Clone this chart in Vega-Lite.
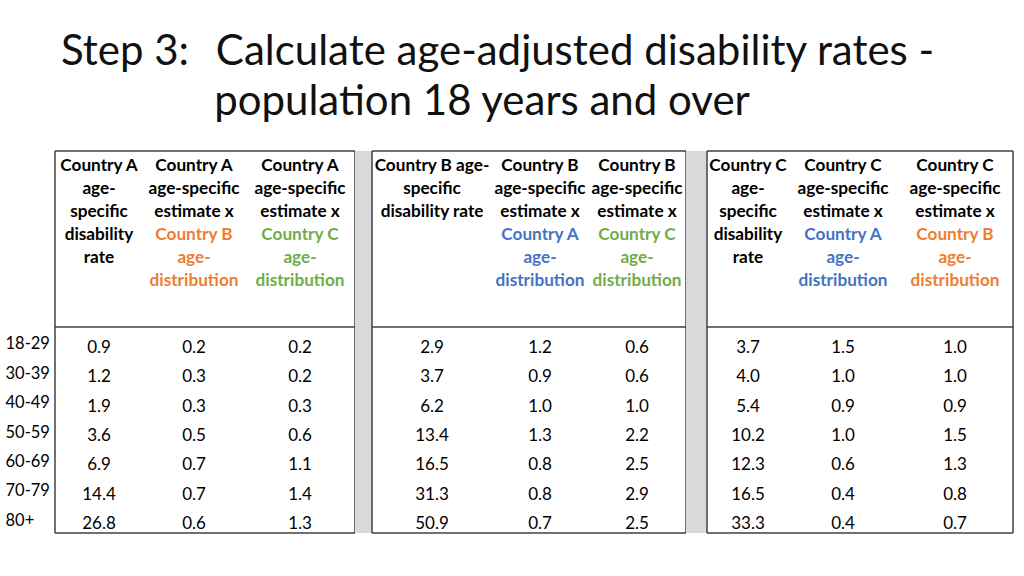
{
  "$schema": "https://vega.github.io/schema/vega-lite/v6.json",
  "padding": {"left": 5, "top": 31, "right": 5, "bottom": 5},
  "background": "white",
  "title": {
    "text": ["Step 3:\u00a0\u00a0\u2009Calculate age-adjusted disability rates -", "\u200b\u00a0\u00a0\u00a0\u00a0\u00a0\u00a0\u00a0\u00a0\u00a0\u00a0\u00a0\u00a0\u00a0\u00a0\u200apopula\u200ction 18 years and over"],
    "anchor": "start", "frame": "group", "font": "Lato", "fontSize": 42, "fontWeight": "normal",
    "color": "#111111", "lineHeight": 50, "offset": 26, "dx": 6
  },
  "config": {"view": {"stroke": null}, "concat": {"spacing": 0}},
  "datasets": {
    "rates": [
      {"age": "18-29", "a1": 0.9, "a2": 0.2, "a3": 0.2, "b1": 2.9, "b2": 1.2, "b3": 0.6, "c1": 3.7, "c2": 1.5, "c3": 1.0},
      {"age": "30-39", "a1": 1.2, "a2": 0.3, "a3": 0.2, "b1": 3.7, "b2": 0.9, "b3": 0.6, "c1": 4.0, "c2": 1.0, "c3": 1.0},
      {"age": "40-49", "a1": 1.9, "a2": 0.3, "a3": 0.3, "b1": 6.2, "b2": 1.0, "b3": 1.0, "c1": 5.4, "c2": 0.9, "c3": 0.9},
      {"age": "50-59", "a1": 3.6, "a2": 0.5, "a3": 0.6, "b1": 13.4, "b2": 1.3, "b3": 2.2, "c1": 10.2, "c2": 1.0, "c3": 1.5},
      {"age": "60-69", "a1": 6.9, "a2": 0.7, "a3": 1.1, "b1": 16.5, "b2": 0.8, "b3": 2.5, "c1": 12.3, "c2": 0.6, "c3": 1.3},
      {"age": "70-79", "a1": 14.4, "a2": 0.7, "a3": 1.4, "b1": 31.3, "b2": 0.8, "b3": 2.9, "c1": 16.5, "c2": 0.4, "c3": 0.8},
      {"age": "80+", "a1": 26.8, "a2": 0.6, "a3": 1.3, "b1": 50.9, "b2": 0.7, "b3": 2.5, "c1": 33.3, "c2": 0.4, "c3": 0.7}
    ],
    "headers": [
      {"col": "a1", "line": 1, "text": "Country A", "hl": "none"},
      {"col": "a1", "line": 2, "text": "age-", "hl": "none"},
      {"col": "a1", "line": 3, "text": "specific", "hl": "none"},
      {"col": "a1", "line": 4, "text": "disability", "hl": "none"},
      {"col": "a1", "line": 5, "text": "rate", "hl": "none"},
      {"col": "a2", "line": 1, "text": "Country A", "hl": "none"},
      {"col": "a2", "line": 2, "text": "age-specific", "hl": "none"},
      {"col": "a2", "line": 3, "text": "estimate x", "hl": "none"},
      {"col": "a2", "line": 4, "text": "Country B", "hl": "B"},
      {"col": "a2", "line": 5, "text": "age-", "hl": "B"},
      {"col": "a2", "line": 6, "text": "distribu\u200ction", "hl": "B"},
      {"col": "a3", "line": 1, "text": "Country A", "hl": "none"},
      {"col": "a3", "line": 2, "text": "age-specific", "hl": "none"},
      {"col": "a3", "line": 3, "text": "estimate x", "hl": "none"},
      {"col": "a3", "line": 4, "text": "Country C", "hl": "C"},
      {"col": "a3", "line": 5, "text": "age-", "hl": "C"},
      {"col": "a3", "line": 6, "text": "distribu\u200ction", "hl": "C"},
      {"col": "b1", "line": 1, "text": "Country B age-", "hl": "none"},
      {"col": "b1", "line": 2, "text": "specific", "hl": "none"},
      {"col": "b1", "line": 3, "text": "disability rate", "hl": "none"},
      {"col": "b2", "line": 1, "text": "Country B", "hl": "none"},
      {"col": "b2", "line": 2, "text": "age-specific", "hl": "none"},
      {"col": "b2", "line": 3, "text": "estimate x", "hl": "none"},
      {"col": "b2", "line": 4, "text": "Country A", "hl": "A"},
      {"col": "b2", "line": 5, "text": "age-", "hl": "A"},
      {"col": "b2", "line": 6, "text": "distribu\u200ction", "hl": "A"},
      {"col": "b3", "line": 1, "text": "Country B", "hl": "none"},
      {"col": "b3", "line": 2, "text": "age-specific", "hl": "none"},
      {"col": "b3", "line": 3, "text": "estimate x", "hl": "none"},
      {"col": "b3", "line": 4, "text": "Country C", "hl": "C"},
      {"col": "b3", "line": 5, "text": "age-", "hl": "C"},
      {"col": "b3", "line": 6, "text": "distribu\u200ction", "hl": "C"},
      {"col": "c1", "line": 1, "text": "Country C", "hl": "none"},
      {"col": "c1", "line": 2, "text": "age-", "hl": "none"},
      {"col": "c1", "line": 3, "text": "specific", "hl": "none"},
      {"col": "c1", "line": 4, "text": "disability", "hl": "none"},
      {"col": "c1", "line": 5, "text": "rate", "hl": "none"},
      {"col": "c2", "line": 1, "text": "Country C", "hl": "none"},
      {"col": "c2", "line": 2, "text": "age-specific", "hl": "none"},
      {"col": "c2", "line": 3, "text": "estimate x", "hl": "none"},
      {"col": "c2", "line": 4, "text": "Country A", "hl": "A"},
      {"col": "c2", "line": 5, "text": "age-", "hl": "A"},
      {"col": "c2", "line": 6, "text": "distribu\u200ction", "hl": "A"},
      {"col": "c3", "line": 1, "text": "Country C", "hl": "none"},
      {"col": "c3", "line": 2, "text": "age-specific", "hl": "none"},
      {"col": "c3", "line": 3, "text": "estimate x", "hl": "none"},
      {"col": "c3", "line": 4, "text": "Country B", "hl": "B"},
      {"col": "c3", "line": 5, "text": "age-", "hl": "B"},
      {"col": "c3", "line": 6, "text": "distribu\u200ction", "hl": "B"}
    ]
  },
  "columns": 11,
  "spacing": 0,
  "bounds": "flush",
  "concat": [
    {"width": 88, "height": 176, "layer": [
      {"data": {"name": "headers"}, "transform": [{"filter": "datum.col == 'a1'"}],
       "mark": {"type": "text", "font": "Lato", "fontSize": 17.2, "fontWeight": "bold", "baseline": "middle"},
       "encoding": {"y": {"field": "line", "type": "ordinal", "scale": {"type": "point", "domain": [1, 2, 3, 4, 5, 6, 7], "padding": 0.826, "align": 0.39}, "axis": null},
         "text": {"field": "text", "type": "nominal"},
         "color": {"field": "hl", "type": "nominal", "scale": {"domain": ["none", "A", "B", "C"], "range": ["#000000", "#4472C4", "#ED7D31", "#70AD47"]}, "legend": null}}},
      {"data": {"values": [{}]}, "mark": {"type": "rule", "color": "#404040", "strokeWidth": 1.5}, "encoding": {"y": {"value": 0}}},
      {"data": {"values": [{}]}, "mark": {"type": "rule", "color": "#404040", "strokeWidth": 1.5}, "encoding": {"x": {"value": 0}}}
    ]},
    {"width": 102, "height": 176, "layer": [
      {"data": {"name": "headers"}, "transform": [{"filter": "datum.col == 'a2'"}],
       "mark": {"type": "text", "font": "Lato", "fontSize": 17.2, "fontWeight": "bold", "baseline": "middle"},
       "encoding": {"y": {"field": "line", "type": "ordinal", "scale": {"type": "point", "domain": [1, 2, 3, 4, 5, 6, 7], "padding": 0.826, "align": 0.39}, "axis": null},
         "text": {"field": "text", "type": "nominal"},
         "color": {"field": "hl", "type": "nominal", "scale": {"domain": ["none", "A", "B", "C"], "range": ["#000000", "#4472C4", "#ED7D31", "#70AD47"]}, "legend": null}}},
      {"data": {"values": [{}]}, "mark": {"type": "rule", "color": "#404040", "strokeWidth": 1.5}, "encoding": {"y": {"value": 0}}}
    ]},
    {"width": 110, "height": 176, "layer": [
      {"data": {"name": "headers"}, "transform": [{"filter": "datum.col == 'a3'"}],
       "mark": {"type": "text", "font": "Lato", "fontSize": 17.2, "fontWeight": "bold", "baseline": "middle"},
       "encoding": {"y": {"field": "line", "type": "ordinal", "scale": {"type": "point", "domain": [1, 2, 3, 4, 5, 6, 7], "padding": 0.826, "align": 0.39}, "axis": null},
         "text": {"field": "text", "type": "nominal"},
         "color": {"field": "hl", "type": "nominal", "scale": {"domain": ["none", "A", "B", "C"], "range": ["#000000", "#4472C4", "#ED7D31", "#70AD47"]}, "legend": null}}},
      {"data": {"values": [{}]}, "mark": {"type": "rule", "color": "#404040", "strokeWidth": 1.5}, "encoding": {"y": {"value": 0}}},
      {"data": {"values": [{}]}, "mark": {"type": "rule", "color": "#404040", "strokeWidth": 1.5}, "encoding": {"x": {"value": "width"}}}
    ]},
    {"width": 17, "height": 176, "view": {"fill": "#d9d9d9", "stroke": null}, "data": {"values": [{}]}, "mark": {"type": "text", "text": ""}, "encoding": {}},
    {"width": 120, "height": 176, "layer": [
      {"data": {"name": "headers"}, "transform": [{"filter": "datum.col == 'b1'"}],
       "mark": {"type": "text", "font": "Lato", "fontSize": 17.2, "fontWeight": "bold", "baseline": "middle"},
       "encoding": {"y": {"field": "line", "type": "ordinal", "scale": {"type": "point", "domain": [1, 2, 3, 4, 5, 6, 7], "padding": 0.826, "align": 0.39}, "axis": null},
         "text": {"field": "text", "type": "nominal"},
         "color": {"field": "hl", "type": "nominal", "scale": {"domain": ["none", "A", "B", "C"], "range": ["#000000", "#4472C4", "#ED7D31", "#70AD47"]}, "legend": null}}},
      {"data": {"values": [{}]}, "mark": {"type": "rule", "color": "#404040", "strokeWidth": 1.5}, "encoding": {"y": {"value": 0}}},
      {"data": {"values": [{}]}, "mark": {"type": "rule", "color": "#404040", "strokeWidth": 1.5}, "encoding": {"x": {"value": 0}}}
    ]},
    {"width": 96, "height": 176, "layer": [
      {"data": {"name": "headers"}, "transform": [{"filter": "datum.col == 'b2'"}],
       "mark": {"type": "text", "font": "Lato", "fontSize": 17.2, "fontWeight": "bold", "baseline": "middle"},
       "encoding": {"y": {"field": "line", "type": "ordinal", "scale": {"type": "point", "domain": [1, 2, 3, 4, 5, 6, 7], "padding": 0.826, "align": 0.39}, "axis": null},
         "text": {"field": "text", "type": "nominal"},
         "color": {"field": "hl", "type": "nominal", "scale": {"domain": ["none", "A", "B", "C"], "range": ["#000000", "#4472C4", "#ED7D31", "#70AD47"]}, "legend": null}}},
      {"data": {"values": [{}]}, "mark": {"type": "rule", "color": "#404040", "strokeWidth": 1.5}, "encoding": {"y": {"value": 0}}}
    ]},
    {"width": 98, "height": 176, "layer": [
      {"data": {"name": "headers"}, "transform": [{"filter": "datum.col == 'b3'"}],
       "mark": {"type": "text", "font": "Lato", "fontSize": 17.2, "fontWeight": "bold", "baseline": "middle"},
       "encoding": {"y": {"field": "line", "type": "ordinal", "scale": {"type": "point", "domain": [1, 2, 3, 4, 5, 6, 7], "padding": 0.826, "align": 0.39}, "axis": null},
         "text": {"field": "text", "type": "nominal"},
         "color": {"field": "hl", "type": "nominal", "scale": {"domain": ["none", "A", "B", "C"], "range": ["#000000", "#4472C4", "#ED7D31", "#70AD47"]}, "legend": null}}},
      {"data": {"values": [{}]}, "mark": {"type": "rule", "color": "#404040", "strokeWidth": 1.5}, "encoding": {"y": {"value": 0}}},
      {"data": {"values": [{}]}, "mark": {"type": "rule", "color": "#404040", "strokeWidth": 1.5}, "encoding": {"x": {"value": "width"}}}
    ]},
    {"width": 21, "height": 176, "view": {"fill": "#d9d9d9", "stroke": null}, "data": {"values": [{}]}, "mark": {"type": "text", "text": ""}, "encoding": {}},
    {"width": 82, "height": 176, "layer": [
      {"data": {"name": "headers"}, "transform": [{"filter": "datum.col == 'c1'"}],
       "mark": {"type": "text", "font": "Lato", "fontSize": 17.2, "fontWeight": "bold", "baseline": "middle"},
       "encoding": {"y": {"field": "line", "type": "ordinal", "scale": {"type": "point", "domain": [1, 2, 3, 4, 5, 6, 7], "padding": 0.826, "align": 0.39}, "axis": null},
         "text": {"field": "text", "type": "nominal"},
         "color": {"field": "hl", "type": "nominal", "scale": {"domain": ["none", "A", "B", "C"], "range": ["#000000", "#4472C4", "#ED7D31", "#70AD47"]}, "legend": null}}},
      {"data": {"values": [{}]}, "mark": {"type": "rule", "color": "#404040", "strokeWidth": 1.5}, "encoding": {"y": {"value": 0}}},
      {"data": {"values": [{}]}, "mark": {"type": "rule", "color": "#404040", "strokeWidth": 1.5}, "encoding": {"x": {"value": 0}}}
    ]},
    {"width": 108, "height": 176, "layer": [
      {"data": {"name": "headers"}, "transform": [{"filter": "datum.col == 'c2'"}],
       "mark": {"type": "text", "font": "Lato", "fontSize": 17.2, "fontWeight": "bold", "baseline": "middle"},
       "encoding": {"y": {"field": "line", "type": "ordinal", "scale": {"type": "point", "domain": [1, 2, 3, 4, 5, 6, 7], "padding": 0.826, "align": 0.39}, "axis": null},
         "text": {"field": "text", "type": "nominal"},
         "color": {"field": "hl", "type": "nominal", "scale": {"domain": ["none", "A", "B", "C"], "range": ["#000000", "#4472C4", "#ED7D31", "#70AD47"]}, "legend": null}}},
      {"data": {"values": [{}]}, "mark": {"type": "rule", "color": "#404040", "strokeWidth": 1.5}, "encoding": {"y": {"value": 0}}}
    ]},
    {"width": 116, "height": 176, "layer": [
      {"data": {"name": "headers"}, "transform": [{"filter": "datum.col == 'c3'"}],
       "mark": {"type": "text", "font": "Lato", "fontSize": 17.2, "fontWeight": "bold", "baseline": "middle"},
       "encoding": {"y": {"field": "line", "type": "ordinal", "scale": {"type": "point", "domain": [1, 2, 3, 4, 5, 6, 7], "padding": 0.826, "align": 0.39}, "axis": null},
         "text": {"field": "text", "type": "nominal"},
         "color": {"field": "hl", "type": "nominal", "scale": {"domain": ["none", "A", "B", "C"], "range": ["#000000", "#4472C4", "#ED7D31", "#70AD47"]}, "legend": null}}},
      {"data": {"values": [{}]}, "mark": {"type": "rule", "color": "#404040", "strokeWidth": 1.5}, "encoding": {"y": {"value": 0}}},
      {"data": {"values": [{}]}, "mark": {"type": "rule", "color": "#404040", "strokeWidth": 1.5}, "encoding": {"x": {"value": "width"}}}
    ]},
    {"width": 88, "height": 206, "layer": [
      {"data": {"name": "rates"}, "mark": {"type": "text", "font": "Lato", "fontSize": 17, "dy": 6, "color": "#000000"},
       "encoding": {"y": {"field": "age", "type": "ordinal", "scale": {"type": "point", "domain": ["18-29", "30-39", "40-49", "50-59", "60-69", "70-79", "80+"], "padding": 0.5},
         "axis": {"title": null, "ticks": false, "domain": false, "grid": false, "labelAlign": "left", "labelPadding": 50, "labelOffset": 2, "labelFont": "Lato", "labelFontSize": 16.5, "labelColor": "#000000", "labelBaseline": "middle"}},
         "text": {"field": "a1", "type": "quantitative", "format": ".1f"}}},
      {"data": {"values": [{}]}, "mark": {"type": "rule", "color": "#404040", "strokeWidth": 1.5}, "encoding": {"y": {"value": 0}}},
      {"data": {"values": [{}]}, "mark": {"type": "rule", "color": "#404040", "strokeWidth": 1.5}, "encoding": {"y": {"value": "height"}}},
      {"data": {"values": [{}]}, "mark": {"type": "rule", "color": "#404040", "strokeWidth": 1.5}, "encoding": {"x": {"value": 0}}}
    ]},
    {"width": 102, "height": 206, "layer": [
      {"data": {"name": "rates"}, "mark": {"type": "text", "font": "Lato", "fontSize": 17, "dy": 6, "color": "#000000"},
       "encoding": {"y": {"field": "age", "type": "ordinal", "scale": {"type": "point", "domain": ["18-29", "30-39", "40-49", "50-59", "60-69", "70-79", "80+"], "padding": 0.5}, "axis": null},
         "text": {"field": "a2", "type": "quantitative", "format": ".1f"}}},
      {"data": {"values": [{}]}, "mark": {"type": "rule", "color": "#404040", "strokeWidth": 1.5}, "encoding": {"y": {"value": 0}}},
      {"data": {"values": [{}]}, "mark": {"type": "rule", "color": "#404040", "strokeWidth": 1.5}, "encoding": {"y": {"value": "height"}}}
    ]},
    {"width": 110, "height": 206, "layer": [
      {"data": {"name": "rates"}, "mark": {"type": "text", "font": "Lato", "fontSize": 17, "dy": 6, "color": "#000000"},
       "encoding": {"y": {"field": "age", "type": "ordinal", "scale": {"type": "point", "domain": ["18-29", "30-39", "40-49", "50-59", "60-69", "70-79", "80+"], "padding": 0.5}, "axis": null},
         "text": {"field": "a3", "type": "quantitative", "format": ".1f"}}},
      {"data": {"values": [{}]}, "mark": {"type": "rule", "color": "#404040", "strokeWidth": 1.5}, "encoding": {"y": {"value": 0}}},
      {"data": {"values": [{}]}, "mark": {"type": "rule", "color": "#404040", "strokeWidth": 1.5}, "encoding": {"y": {"value": "height"}}},
      {"data": {"values": [{}]}, "mark": {"type": "rule", "color": "#404040", "strokeWidth": 1.5}, "encoding": {"x": {"value": "width"}}}
    ]},
    {"width": 17, "height": 206, "view": {"fill": "#d9d9d9", "stroke": null}, "data": {"values": [{}]}, "mark": {"type": "text", "text": ""}, "encoding": {}},
    {"width": 120, "height": 206, "layer": [
      {"data": {"name": "rates"}, "mark": {"type": "text", "font": "Lato", "fontSize": 17, "dy": 6, "color": "#000000"},
       "encoding": {"y": {"field": "age", "type": "ordinal", "scale": {"type": "point", "domain": ["18-29", "30-39", "40-49", "50-59", "60-69", "70-79", "80+"], "padding": 0.5}, "axis": null},
         "text": {"field": "b1", "type": "quantitative", "format": ".1f"}}},
      {"data": {"values": [{}]}, "mark": {"type": "rule", "color": "#404040", "strokeWidth": 1.5}, "encoding": {"y": {"value": 0}}},
      {"data": {"values": [{}]}, "mark": {"type": "rule", "color": "#404040", "strokeWidth": 1.5}, "encoding": {"y": {"value": "height"}}},
      {"data": {"values": [{}]}, "mark": {"type": "rule", "color": "#404040", "strokeWidth": 1.5}, "encoding": {"x": {"value": 0}}}
    ]},
    {"width": 96, "height": 206, "layer": [
      {"data": {"name": "rates"}, "mark": {"type": "text", "font": "Lato", "fontSize": 17, "dy": 6, "color": "#000000"},
       "encoding": {"y": {"field": "age", "type": "ordinal", "scale": {"type": "point", "domain": ["18-29", "30-39", "40-49", "50-59", "60-69", "70-79", "80+"], "padding": 0.5}, "axis": null},
         "text": {"field": "b2", "type": "quantitative", "format": ".1f"}}},
      {"data": {"values": [{}]}, "mark": {"type": "rule", "color": "#404040", "strokeWidth": 1.5}, "encoding": {"y": {"value": 0}}},
      {"data": {"values": [{}]}, "mark": {"type": "rule", "color": "#404040", "strokeWidth": 1.5}, "encoding": {"y": {"value": "height"}}}
    ]},
    {"width": 98, "height": 206, "layer": [
      {"data": {"name": "rates"}, "mark": {"type": "text", "font": "Lato", "fontSize": 17, "dy": 6, "color": "#000000"},
       "encoding": {"y": {"field": "age", "type": "ordinal", "scale": {"type": "point", "domain": ["18-29", "30-39", "40-49", "50-59", "60-69", "70-79", "80+"], "padding": 0.5}, "axis": null},
         "text": {"field": "b3", "type": "quantitative", "format": ".1f"}}},
      {"data": {"values": [{}]}, "mark": {"type": "rule", "color": "#404040", "strokeWidth": 1.5}, "encoding": {"y": {"value": 0}}},
      {"data": {"values": [{}]}, "mark": {"type": "rule", "color": "#404040", "strokeWidth": 1.5}, "encoding": {"y": {"value": "height"}}},
      {"data": {"values": [{}]}, "mark": {"type": "rule", "color": "#404040", "strokeWidth": 1.5}, "encoding": {"x": {"value": "width"}}}
    ]},
    {"width": 21, "height": 206, "view": {"fill": "#d9d9d9", "stroke": null}, "data": {"values": [{}]}, "mark": {"type": "text", "text": ""}, "encoding": {}},
    {"width": 82, "height": 206, "layer": [
      {"data": {"name": "rates"}, "mark": {"type": "text", "font": "Lato", "fontSize": 17, "dy": 6, "color": "#000000"},
       "encoding": {"y": {"field": "age", "type": "ordinal", "scale": {"type": "point", "domain": ["18-29", "30-39", "40-49", "50-59", "60-69", "70-79", "80+"], "padding": 0.5}, "axis": null},
         "text": {"field": "c1", "type": "quantitative", "format": ".1f"}}},
      {"data": {"values": [{}]}, "mark": {"type": "rule", "color": "#404040", "strokeWidth": 1.5}, "encoding": {"y": {"value": 0}}},
      {"data": {"values": [{}]}, "mark": {"type": "rule", "color": "#404040", "strokeWidth": 1.5}, "encoding": {"y": {"value": "height"}}},
      {"data": {"values": [{}]}, "mark": {"type": "rule", "color": "#404040", "strokeWidth": 1.5}, "encoding": {"x": {"value": 0}}}
    ]},
    {"width": 108, "height": 206, "layer": [
      {"data": {"name": "rates"}, "mark": {"type": "text", "font": "Lato", "fontSize": 17, "dy": 6, "color": "#000000"},
       "encoding": {"y": {"field": "age", "type": "ordinal", "scale": {"type": "point", "domain": ["18-29", "30-39", "40-49", "50-59", "60-69", "70-79", "80+"], "padding": 0.5}, "axis": null},
         "text": {"field": "c2", "type": "quantitative", "format": ".1f"}}},
      {"data": {"values": [{}]}, "mark": {"type": "rule", "color": "#404040", "strokeWidth": 1.5}, "encoding": {"y": {"value": 0}}},
      {"data": {"values": [{}]}, "mark": {"type": "rule", "color": "#404040", "strokeWidth": 1.5}, "encoding": {"y": {"value": "height"}}}
    ]},
    {"width": 116, "height": 206, "layer": [
      {"data": {"name": "rates"}, "mark": {"type": "text", "font": "Lato", "fontSize": 17, "dy": 6, "color": "#000000"},
       "encoding": {"y": {"field": "age", "type": "ordinal", "scale": {"type": "point", "domain": ["18-29", "30-39", "40-49", "50-59", "60-69", "70-79", "80+"], "padding": 0.5}, "axis": null},
         "text": {"field": "c3", "type": "quantitative", "format": ".1f"}}},
      {"data": {"values": [{}]}, "mark": {"type": "rule", "color": "#404040", "strokeWidth": 1.5}, "encoding": {"y": {"value": 0}}},
      {"data": {"values": [{}]}, "mark": {"type": "rule", "color": "#404040", "strokeWidth": 1.5}, "encoding": {"y": {"value": "height"}}},
      {"data": {"values": [{}]}, "mark": {"type": "rule", "color": "#404040", "strokeWidth": 1.5}, "encoding": {"x": {"value": "width"}}}
    ]}
  ]
}
